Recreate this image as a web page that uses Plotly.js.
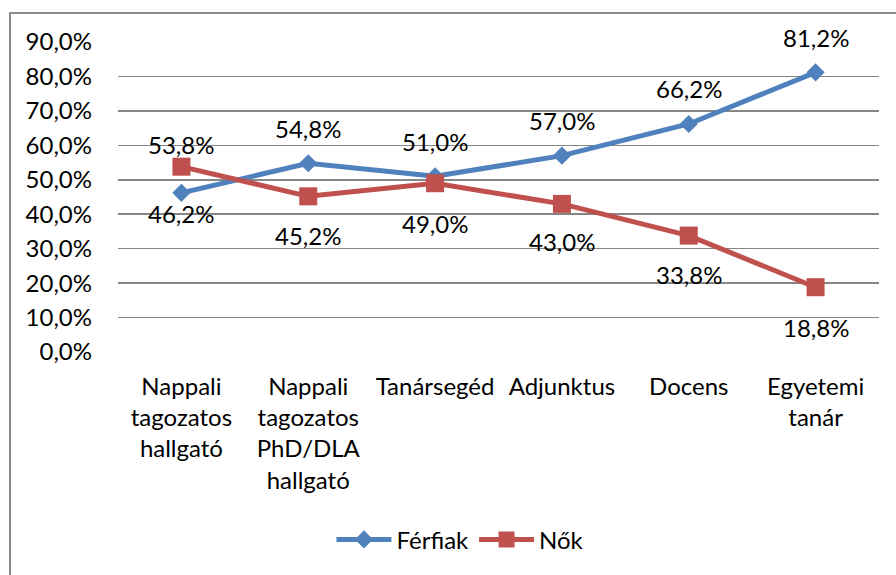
<!DOCTYPE html>
<html>
<head>
<meta charset="utf-8">
<script src="https://cdn.plot.ly/plotly-3.0.1.min.js"></script>
<style>
html,body{margin:0;padding:0;background:#fff;}
#wrap{position:relative;width:896px;height:575px;overflow:hidden;}
#chart{width:896px;height:575px;}
#frame{position:absolute;left:9px;top:12px;width:900px;height:600px;border:2px solid #8c8c8c;box-sizing:border-box;pointer-events:none;}
</style>
</head>
<body>
<div id="wrap"><div id="chart"></div><div id="frame"></div></div>
<script>
const categories = ["Nappali<br>tagozatos<br>hallgató", "Nappali<br>tagozatos<br>PhD/DLA<br>hallgató", "Tanársegéd", "Adjunktus", "Docens", "Egyetemi<br>tanár"];
const ferfiak = [46.2, 54.8, 51.0, 57.0, 66.2, 81.2];
const nok = [53.8, 45.2, 49.0, 43.0, 33.8, 18.8];
const yTicks = [0, 10, 20, 30, 40, 50, 60, 70, 80, 90];
const yTickLabels = ["0,0%", "10,0%", "20,0%", "30,0%", "40,0%", "50,0%", "60,0%", "70,0%", "80,0%", "90,0%"];
// label offsets (style): pixels, negative = below
const ferfiakShift = [-21, 35, 35, 35, 35, 35];
const nokShift = [22, -39, -40, -38, -39, -40];

const font = {family: "Lato, 'Open Sans', sans-serif", size: 24, color: "#000"};
const fmt = v => v.toFixed(1).replace(".", ",") + "%";

const traces = [
  {
    x: categories, y: ferfiak, name: "Férfiak", type: "scatter", mode: "lines+markers",
    line: {color: "#4F81BD", width: 5},
    marker: {symbol: "diamond", size: 14, color: "#4F81BD"}
  },
  {
    x: categories, y: nok, name: "Nők", type: "scatter", mode: "lines+markers",
    line: {color: "#C0504D", width: 5},
    marker: {symbol: "square", size: 18, color: "#C0504D"}
  }
];

const annotations = [];
categories.forEach((c, i) => {
  annotations.push({x: c, y: ferfiak[i], text: fmt(ferfiak[i]), showarrow: false, yshift: ferfiakShift[i], font: font, xref: "x", yref: "y"});
  annotations.push({x: c, y: nok[i], text: fmt(nok[i]), showarrow: false, yshift: nokShift[i], font: font, xref: "x", yref: "y"});
});

const layout = {
  width: 896, height: 575,
  margin: {l: 118, r: 17, t: 42, b: 221},
  paper_bgcolor: "#fff", plot_bgcolor: "#fff",
  font: font,
  showlegend: true,
  legend: {orientation: "h", x: 0.45, xanchor: "center", y: -0.606, yanchor: "middle", font: font, itemwidth: 55},
  annotations: annotations,
  xaxis: {
    type: "category", range: [-0.5, 5.5], showgrid: false, zeroline: false, showline: false,
    ticks: "", tickfont: font, fixedrange: true, tickangle: 0, ticklabelstandoff: 18
  },
  yaxis: {
    range: [0, 90], tickmode: "array", tickvals: yTicks, ticktext: yTickLabels,
    showgrid: true, gridcolor: "#868686", gridwidth: 1.5,
    zeroline: false, showline: false, ticks: "", ticklabelstandoff: 25,
    tickfont: font, fixedrange: true
  }
};

Plotly.newPlot("chart", traces, layout, {displayModeBar: false, staticPlot: true});
</script>
</body>
</html>
